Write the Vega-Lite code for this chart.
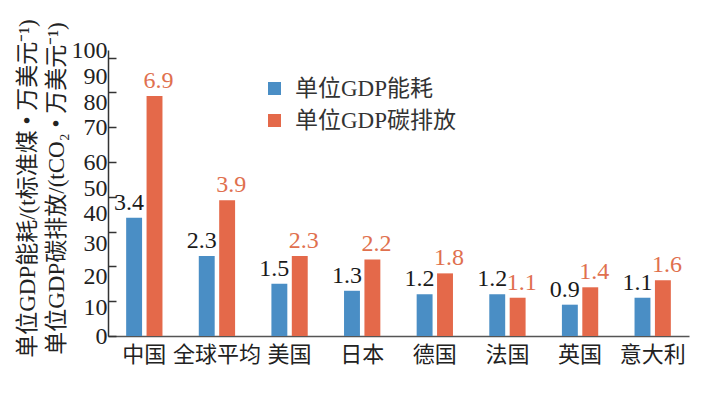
{
  "$schema": "https://vega.github.io/schema/vega-lite/v6.json",
  "width": 581,
  "height": 286,
  "autosize": {"type": "none"},
  "padding": {"left": 108, "top": 50, "right": 23, "bottom": 59},
  "background": "white",
  "config": {
    "view": {"stroke": null},
    "font": "'Liberation Serif', 'Noto Sans CJK SC', serif"
  },
  "data": {
    "values": [
      {"country": "中国", "type": "单位GDP能耗", "value": 3.4},
      {"country": "中国", "type": "单位GDP碳排放", "value": 6.9},
      {"country": "全球平均", "type": "单位GDP能耗", "value": 2.3},
      {"country": "全球平均", "type": "单位GDP碳排放", "value": 3.9},
      {"country": "美国", "type": "单位GDP能耗", "value": 1.5},
      {"country": "美国", "type": "单位GDP碳排放", "value": 2.3},
      {"country": "日本", "type": "单位GDP能耗", "value": 1.3},
      {"country": "日本", "type": "单位GDP碳排放", "value": 2.2},
      {"country": "德国", "type": "单位GDP能耗", "value": 1.2},
      {"country": "德国", "type": "单位GDP碳排放", "value": 1.8},
      {"country": "法国", "type": "单位GDP能耗", "value": 1.2},
      {"country": "法国", "type": "单位GDP碳排放", "value": 1.1},
      {"country": "英国", "type": "单位GDP能耗", "value": 0.9},
      {"country": "英国", "type": "单位GDP碳排放", "value": 1.4},
      {"country": "意大利", "type": "单位GDP能耗", "value": 1.1},
      {"country": "意大利", "type": "单位GDP碳排放", "value": 1.6}
    ]
  },
  "encoding": {
    "x": {
      "field": "country",
      "type": "nominal",
      "sort": null,
      "scale": {"paddingInner": 0.5, "paddingOuter": 0.25},
      "axis": {
        "title": null,
        "labelAngle": 0,
        "labelFontSize": 22,
        "labelColor": "#222222",
        "labelFont": "'Liberation Serif', 'Noto Sans CJK SC', serif",
        "labelPadding": 8,
        "ticks": false,
        "domainColor": "#555555",
        "domainWidth": 1.5
      }
    },
    "xOffset": {
      "field": "type",
      "type": "nominal",
      "sort": ["单位GDP能耗", "单位GDP碳排放"],
      "scale": {"paddingInner": 0.22, "paddingOuter": 0}
    }
  },
  "layer": [
    {
      "mark": {"type": "bar"},
      "encoding": {
        "y": {
          "field": "value",
          "type": "quantitative",
          "scale": {"domain": [0, 8.22], "nice": false, "zero": true},
          "axis": {
            "orient": "left",
            "values": [0, 0.83, 1.7, 2.67, 3.53, 4.25, 4.99, 5.99, 6.7, 7.47, 8.22],
            "labelExpr": "round(datum.value/0.822)*10",
            "labelOverlap": false,
            "labelFlush": false,
            "labelFontSize": 24,
            "labelColor": "#222222",
            "labelFont": "'Liberation Serif', serif",
            "labelPadding": 1,
            "ticks": false,
            "domain": false,
            "grid": false,
            "title": ["单位GDP能耗/(t标准煤 • 万美元⁻¹)", "单位GDP碳排放/(tCO₂ • 万美元⁻¹)"],
            "titleFontSize": 23,
            "titleFontWeight": "normal",
            "titleColor": "#222222",
            "titleFont": "'Liberation Serif', 'Noto Sans CJK SC', serif",
            "titleLineHeight": 29,
            "titleAngle": -90,
            "titleX": -81,
            "titleY": 138,
            "titleAlign": "center",
            "titleBaseline": "middle"
          }
        },
        "color": {
          "field": "type",
          "type": "nominal",
          "sort": ["单位GDP能耗", "单位GDP碳排放"],
          "scale": {"domain": ["单位GDP能耗", "单位GDP碳排放"], "range": ["#4a8ec5", "#e4694a"]},
          "legend": {
            "title": null,
            "orient": "none",
            "legendX": 155,
            "legendY": 27,
            "padding": 0,
            "symbolType": "square",
            "symbolSize": 169,
            "symbolStrokeWidth": 0,
            "labelFontSize": 23,
            "labelLimit": 400,
            "labelColor": "#333333",
            "labelFont": "'Liberation Serif', 'Noto Sans CJK SC', serif",
            "labelOffset": 9,
            "rowPadding": 8
          }
        }
      }
    },
    {
      "encoding": {
        "y": {
          "field": "value",
          "type": "quantitative",
          "axis": {
            "orient": "left",
            "values": [0, 1, 2, 3, 4, 5, 6, 7, 8],
            "labels": false,
            "tickSize": -8,
            "tickColor": "#333333",
            "tickWidth": 1.5,
            "domainColor": "#333333",
            "domainWidth": 1.5,
            "grid": false,
            "title": null
          }
        },
        "text": {"field": "value", "type": "quantitative", "format": ".1f"}
      },
      "layer": [
        {
          "transform": [{"filter": "datum.type === '单位GDP能耗'"}],
          "mark": {"type": "text", "baseline": "alphabetic", "dy": -8, "dx": -5, "fontSize": 24, "font": "'Liberation Serif', serif", "color": "#1a1a1a"}
        },
        {
          "transform": [{"filter": "datum.type === '单位GDP碳排放'"}],
          "mark": {"type": "text", "baseline": "alphabetic", "dy": -8, "dx": 4, "fontSize": 24, "font": "'Liberation Serif', serif", "color": "#e0704e"}
        }
      ]
    }
  ],
  "resolve": {"scale": {"y": "shared"}, "axis": {"y": "independent"}}
}
